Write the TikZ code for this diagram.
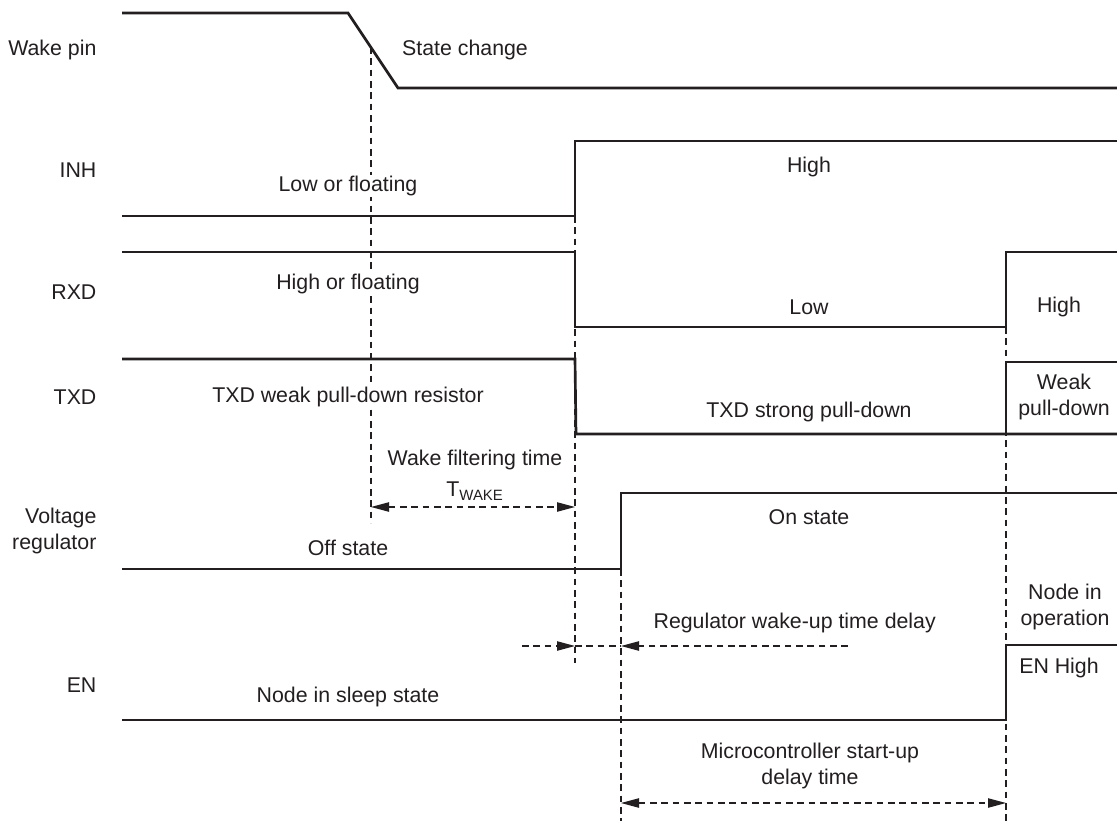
\documentclass[tikz,border=0pt]{standalone}
\usepackage{fontspec}
\setmainfont{Liberation Sans}
\usetikzlibrary{arrows.meta,positioning}
\definecolor{ink}{RGB}{35,31,32}
\tikzset{
  sig/.style={line width=2pt,draw=ink},
  guide/.style={line width=0.9pt,draw=ink,dash pattern=on 5pt off 3.5pt},
  dim/.style={guide,{Triangle[length=13.5pt,width=7pt]}-{Triangle[length=13.5pt,width=7pt]}},
  dimr/.style={guide,-{Triangle[length=13.5pt,width=7pt]}},
  lbl/.style={text=ink,font=\fontsize{16}{19.5}\selectfont,inner sep=1pt,fill=white,align=center},
  signame/.style={lbl,anchor=east,align=right}
}
\begin{document}
\begin{tikzpicture}[x=0.75pt,y=-0.75pt]
\useasboundingbox (0,0) rectangle (1117,821);

% signal names
\node[signame] (nwake) at (98,50)  {Wake pin};
\node[signame] (ninh)  at (98,170) {INH};
\node[signame] (nrxd)  at (98,292) {RXD};
\node[signame] (ntxd)  at (98,397) {TXD};
\node[signame] (nreg)  at (98,531) {Voltage\\regulator};
\node[signame] (nen)   at (98,685) {EN};

% guide lines
\draw[guide] (371,47) -- (371,523);
\draw[guide] (575,216) -- (575,663);
\draw[guide] (621,569) -- (621,821);
\draw[guide] (1006,327) -- (1006,821);

% waveforms
\draw[sig] (122,13) -- (348,13) -- (398,88) -- (1117,88);
\draw[sig] (122,216) -- (575,216) -- (575,141) -- (1117,141);
\draw[sig] (122,252) -- (575,252) -- (575,327) -- (1006,327) -- (1006,252) -- (1117,252);
\draw[sig] (122,359) -- (575,359) -- (576,434) -- (1117,434);
\draw[sig] (1006,434) -- (1006,362) -- (1117,362);
\draw[sig] (122,569) -- (621,569) -- (621,493) -- (1117,493);
\draw[sig] (122,720) -- (1006,720) -- (1006,645) -- (1117,645);

% states
\node[lbl] (schg)  at (465,50)  {State change};
\node[lbl] (inhlo) at (348,186) {Low or floating};
\node[lbl] (inhhi) at (809,167) {High};
\node[lbl] (rxdhi) at (348,284) {High or floating};
\node[lbl] (rxdlo) at (809,307) {Low};
\node[lbl] (rxdhi2) at (1059,307) {High};
\node[lbl] (txdwk) at (348,397) {TXD weak pull-down resistor};
\node[lbl] (txdst) at (809,412) {TXD strong pull-down};
\node[lbl] (txdwk2) at (1064,397) {Weak\\pull-down};
\node[lbl] (regoff) at (348,548) {Off state};
\node[lbl] (regon) at (809,517) {On state};
\node[lbl] (ensl)  at (348,697) {Node in sleep state};
\node[lbl] (enop)  at (1065,607) {Node in\\operation};
\node[lbl] (enhi)  at (1059,668) {EN High};

% timings
\coordinate (tw1) at (371,507);
\coordinate (tw2) at (575,507);
\draw[dim] (tw1) -- (tw2);
\node[lbl] (twake) at (475,475) {Wake filtering time\\[4pt]T\textsubscript{WAKE}};

\coordinate (rg0) at (522,646);
\coordinate (rg1) at (575,646);
\coordinate (rg2) at (621,646);
\coordinate (rg3) at (848,646);
\draw[dimr] (rg0) -- (rg1);
\draw[guide] (rg1) -- (rg2);
\draw[dimr] (rg3) -- (rg2);
\node[lbl,anchor=west] (rgtxt) at (652,623) {Regulator wake-up time delay};

\coordinate (mc1) at (621,803);
\coordinate (mc2) at (1006,803);
\draw[dim] (mc1) -- (mc2);
\node[lbl] (mctxt) at (810,766) {Microcontroller start-up\\delay time};
\end{tikzpicture}
\end{document}
